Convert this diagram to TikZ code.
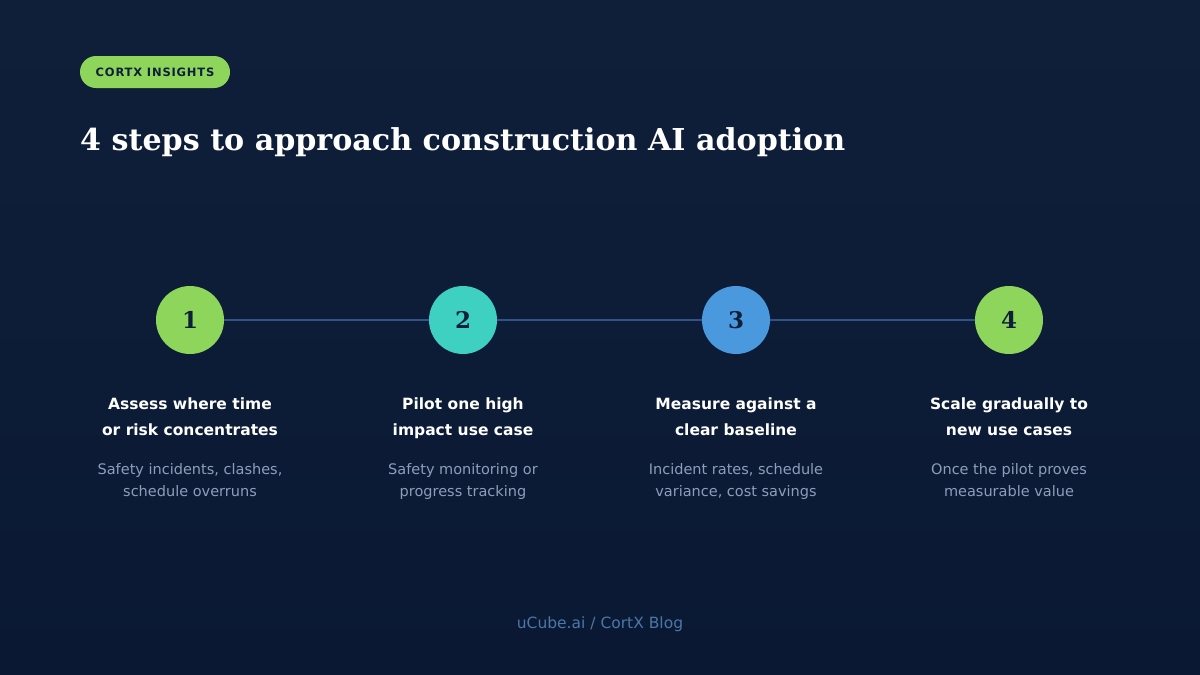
\documentclass[tikz,border=0pt]{standalone}
\usepackage{fontspec}
\setmainfont{DejaVu Sans}
\newfontfamily\titlefont{DejaVu Serif}
\definecolor{bgtop}{HTML}{0F1F3A}
\definecolor{bgbot}{HTML}{0A1833}
\definecolor{cgreen}{HTML}{8ED65B}
\definecolor{cteal}{HTML}{3ED0C0}
\definecolor{cblue}{HTML}{4A98DD}
\definecolor{darktxt}{HTML}{0F1F3A}
\definecolor{linecol}{HTML}{30548A}
\definecolor{subtxt}{HTML}{8C9FBA}
\definecolor{foot}{HTML}{4C77A8}
\tikzset{
  stepcircle/.style={circle, minimum size=68pt, inner sep=0pt, text=darktxt, font=\titlefont\bfseries\fontsize{23}{23}\selectfont},
  head/.style={align=center, text=white, font=\bfseries\fontsize{15.5}{26}\selectfont},
  sub/.style={align=center, text=subtxt, font=\fontsize{14.5}{22.5}\selectfont},
  conn/.style={draw=linecol, line width=1.2pt},
}
\begin{document}
\begin{tikzpicture}[x=1pt,y=-1pt]
\useasboundingbox (0,0) rectangle (1200,675);
\shade[top color=bgtop, bottom color=bgbot] (0,0) rectangle (1200,675);
% pill
\node[fill=cgreen, rounded corners=16pt, minimum width=150pt, minimum height=32pt, inner sep=0pt,
  text=darktxt, font=\bfseries\fontsize{11.5}{11.5}\selectfont] (pill) at (155,72) {\addfontfeature{LetterSpace=7}CORTX INSIGHTS};
% title
\node[anchor=base west, inner sep=0pt, text=white] (title) at (80,150)
  {\resizebox{765pt}{!}{\titlefont\bfseries\fontsize{34}{34}\selectfont 4 steps to approach construction AI adoption}};
% circles
\node[stepcircle, fill=cgreen] (c1) at (190,320) {1};
\node[stepcircle, fill=cteal] (c2) at (463,320) {2};
\node[stepcircle, fill=cblue] (c3) at (736,320) {3};
\node[stepcircle, fill=cgreen] (c4) at (1009,320) {4};
\draw[conn] (c1) -- (c2);
\draw[conn] (c2) -- (c3);
\draw[conn] (c3) -- (c4);
% headings
\node[head] (h1) at (190,417) {\strut Assess where time\\\strut or risk concentrates};
\node[head] (h2) at (463,417) {\strut Pilot one high\\\strut impact use case};
\node[head] (h3) at (736,417) {\strut Measure against a\\\strut clear baseline};
\node[head] (h4) at (1009,417) {\strut Scale gradually to\\\strut new use cases};
% subs
\node[sub] (s1) at (190,481) {\strut Safety incidents, clashes,\\\strut schedule overruns};
\node[sub] (s2) at (463,481) {\strut Safety monitoring or\\\strut progress tracking};
\node[sub] (s3) at (736,481) {\strut Incident rates, schedule\\\strut variance, cost savings};
\node[sub] (s4) at (1009,481) {\strut Once the pilot proves\\\strut measurable value};
% footer
\node[text=foot, font=\fontsize{15.5}{15.5}\selectfont] (footer) at (600,624) {uCube.ai / CortX Blog};
\end{tikzpicture}
\end{document}
